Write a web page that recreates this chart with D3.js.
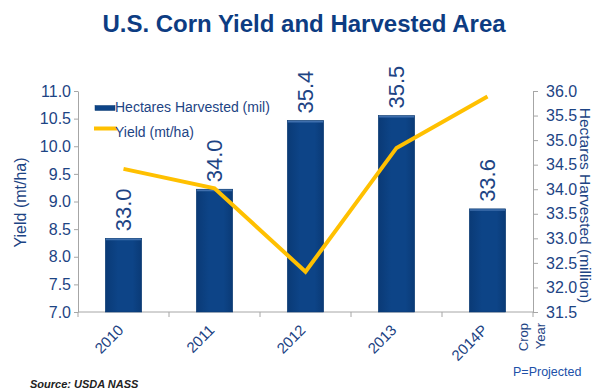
<!DOCTYPE html>
<html>
<head>
<meta charset="utf-8">
<script src="https://cdn.jsdelivr.net/npm/d3@7"></script>
<style>
html,body{margin:0;padding:0;background:#fff;}
svg{display:block;}
text{font-family:"Liberation Sans", Arial, sans-serif;}
</style>
</head>
<body>
<script>
// ---- data ----
const years = ["2010", "2011", "2012", "2013", "2014P"];
const hectares = [33.0, 34.0, 35.4, 35.5, 33.6];      // million ha (bars, right axis)
const yieldVals = [9.59, 9.24, 7.73, 9.97, 10.9];     // mt/ha (line, left axis)
const leftTicks = [7.0, 7.5, 8.0, 8.5, 9.0, 9.5, 10.0, 10.5, 11.0];
const rightTicks = [31.5, 32.0, 32.5, 33.0, 33.5, 34.0, 34.5, 35.0, 35.5, 36.0];

const W = 599, H = 389;
const plot = {l: 78, r: 533, t: 91, b: 312};
const textBlue = "#1D4484";
const barBlue = "#0D4487";
const gold = "#FFC000";
const axisGray = "#A6A6A6";

const svg = d3.select("body").append("svg").attr("width", W).attr("height", H);

const defs = svg.append("defs");
const grad = defs.append("linearGradient").attr("id", "barGrad").attr("x1", 0).attr("x2", 1).attr("y1", 0).attr("y2", 0);
grad.append("stop").attr("offset", "0%").attr("stop-color", "#0A3A76");
grad.append("stop").attr("offset", "35%").attr("stop-color", barBlue);
grad.append("stop").attr("offset", "75%").attr("stop-color", barBlue);
grad.append("stop").attr("offset", "100%").attr("stop-color", "#0A3A76");

const x = d3.scaleBand().domain(years).range([plot.l, plot.r]).paddingInner(0.6).paddingOuter(0.3);
const yL = d3.scaleLinear().domain([7, 11]).range([plot.b, plot.t]);
const yR = d3.scaleLinear().domain([31.5, 36]).range([plot.b, plot.t]);
const cx = d => x(d) + x.bandwidth() / 2;

// title
svg.append("text").attr("x", 304).attr("y", 32).attr("text-anchor", "middle")
  .attr("font-size", 24).attr("font-weight", "bold").attr("fill", "#0D3C82")
  .text("U.S. Corn Yield and Harvested Area");

// left axis
const gL = svg.append("g").attr("transform", `translate(${plot.l},0)`)
  .call(d3.axisLeft(yL).tickValues(leftTicks).tickFormat(d3.format(".1f")).tickSizeInner(4).tickSizeOuter(0).tickPadding(3));
// right axis
const gR = svg.append("g").attr("transform", `translate(${plot.r},0)`)
  .call(d3.axisRight(yR).tickValues(rightTicks).tickFormat(d3.format(".1f")).tickSizeInner(5).tickSizeOuter(0).tickPadding(8));
[gL, gR].forEach(g => {
  g.select(".domain").attr("stroke", axisGray);
  g.selectAll(".tick line").attr("stroke", axisGray);
  g.selectAll(".tick text").attr("fill", textBlue).attr("font-size", 16)
    .attr("font-family", "'Liberation Sans', Arial, sans-serif");
});

// bottom axis with ticks at band boundaries
const boundaries = years.map((_, i) => plot.l + i * x.step());
boundaries.push(plot.r);
svg.append("line").attr("x1", plot.l).attr("x2", plot.r).attr("y1", plot.b).attr("y2", plot.b).attr("stroke", axisGray);
svg.selectAll(".btick").data(boundaries).join("line")
  .attr("x1", d => d).attr("x2", d => d).attr("y1", plot.b).attr("y2", plot.b + 5).attr("stroke", axisGray);

// x labels
svg.selectAll(".xlab").data(years).join("text")
  .attr("transform", d => `translate(${cx(d) + 1},${plot.b + 19}) rotate(-45)`)
  .attr("text-anchor", "end").attr("font-size", 15).attr("fill", textBlue)
  .text(d => d);

// bars
svg.selectAll(".bar").data(years).join("rect")
  .attr("x", d => x(d)).attr("width", x.bandwidth())
  .attr("y", (d, i) => yR(hectares[i])).attr("height", (d, i) => plot.b - yR(hectares[i]))
  .attr("fill", "url(#barGrad)").attr("stroke", "#0B3A72").attr("stroke-width", 0.6);
svg.selectAll(".bartop").data(years).join("line")
  .attr("x1", d => x(d) + 0.5).attr("x2", d => x(d) + x.bandwidth() - 0.5)
  .attr("y1", (d, i) => yR(hectares[i]) + 1.2).attr("y2", (d, i) => yR(hectares[i]) + 1.2)
  .attr("stroke", "#3F6FAD").attr("stroke-width", 1.5);

// bar value labels
svg.selectAll(".blab").data(years).join("text")
  .attr("transform", (d, i) => `translate(${cx(d)},${yR(hectares[i]) - 7}) rotate(-90)`)
  .attr("dy", "0.36em").attr("font-size", 22).attr("fill", textBlue)
  .text((d, i) => d3.format(".1f")(hectares[i]));

// yield line
const line = d3.line().x((d, i) => cx(years[i])).y(d => yL(d));
svg.append("path").datum(yieldVals).attr("d", line)
  .attr("fill", "none").attr("stroke", gold).attr("stroke-width", 4).attr("stroke-linejoin", "miter");

// legend
svg.append("rect").attr("x", 95).attr("y", 105.5).attr("width", 20).attr("height", 5).attr("fill", barBlue).attr("stroke", "#0B3A72").attr("stroke-width", 0.5);
svg.append("text").attr("x", 115).attr("y", 111.5).attr("font-size", 14).attr("fill", textBlue).text("Hectares Harvested (mil)");
svg.append("line").attr("x1", 94).attr("x2", 117).attr("y1", 128.5).attr("y2", 128.5).attr("stroke", gold).attr("stroke-width", 4);
svg.append("text").attr("x", 115).attr("y", 136.5).attr("font-size", 14).attr("fill", textBlue).text("Yield (mt/ha)");

// axis titles
svg.append("text").attr("transform", `translate(26,${(plot.t + plot.b) / 2 + 1}) rotate(-90)`)
  .attr("text-anchor", "middle").attr("font-size", 16).attr("fill", textBlue).text("Yield (mt/ha)");
svg.append("text").attr("transform", `translate(580,${(plot.t + plot.b) / 2 + 4}) rotate(90)`)
  .attr("text-anchor", "middle").attr("font-size", 15.5).attr("fill", textBlue).text("Hectares Harvested (million)");

// Crop Year
svg.append("text").attr("transform", `translate(528,323) rotate(-90)`)
  .attr("text-anchor", "end").attr("font-size", 13).attr("fill", textBlue).text("Crop");
svg.append("text").attr("transform", `translate(545,323) rotate(-90)`)
  .attr("text-anchor", "end").attr("font-size", 13).attr("fill", textBlue).text("Year");

svg.append("text").attr("x", 513).attr("y", 376).attr("font-size", 12.5).attr("fill", "#2050A8").text("P=Projected");

svg.append("text").attr("x", 30).attr("y", 388).attr("font-size", 11).attr("font-weight", "bold")
  .attr("font-style", "italic").attr("fill", "#222").text("Source: USDA NASS");
</script>
</body>
</html>
